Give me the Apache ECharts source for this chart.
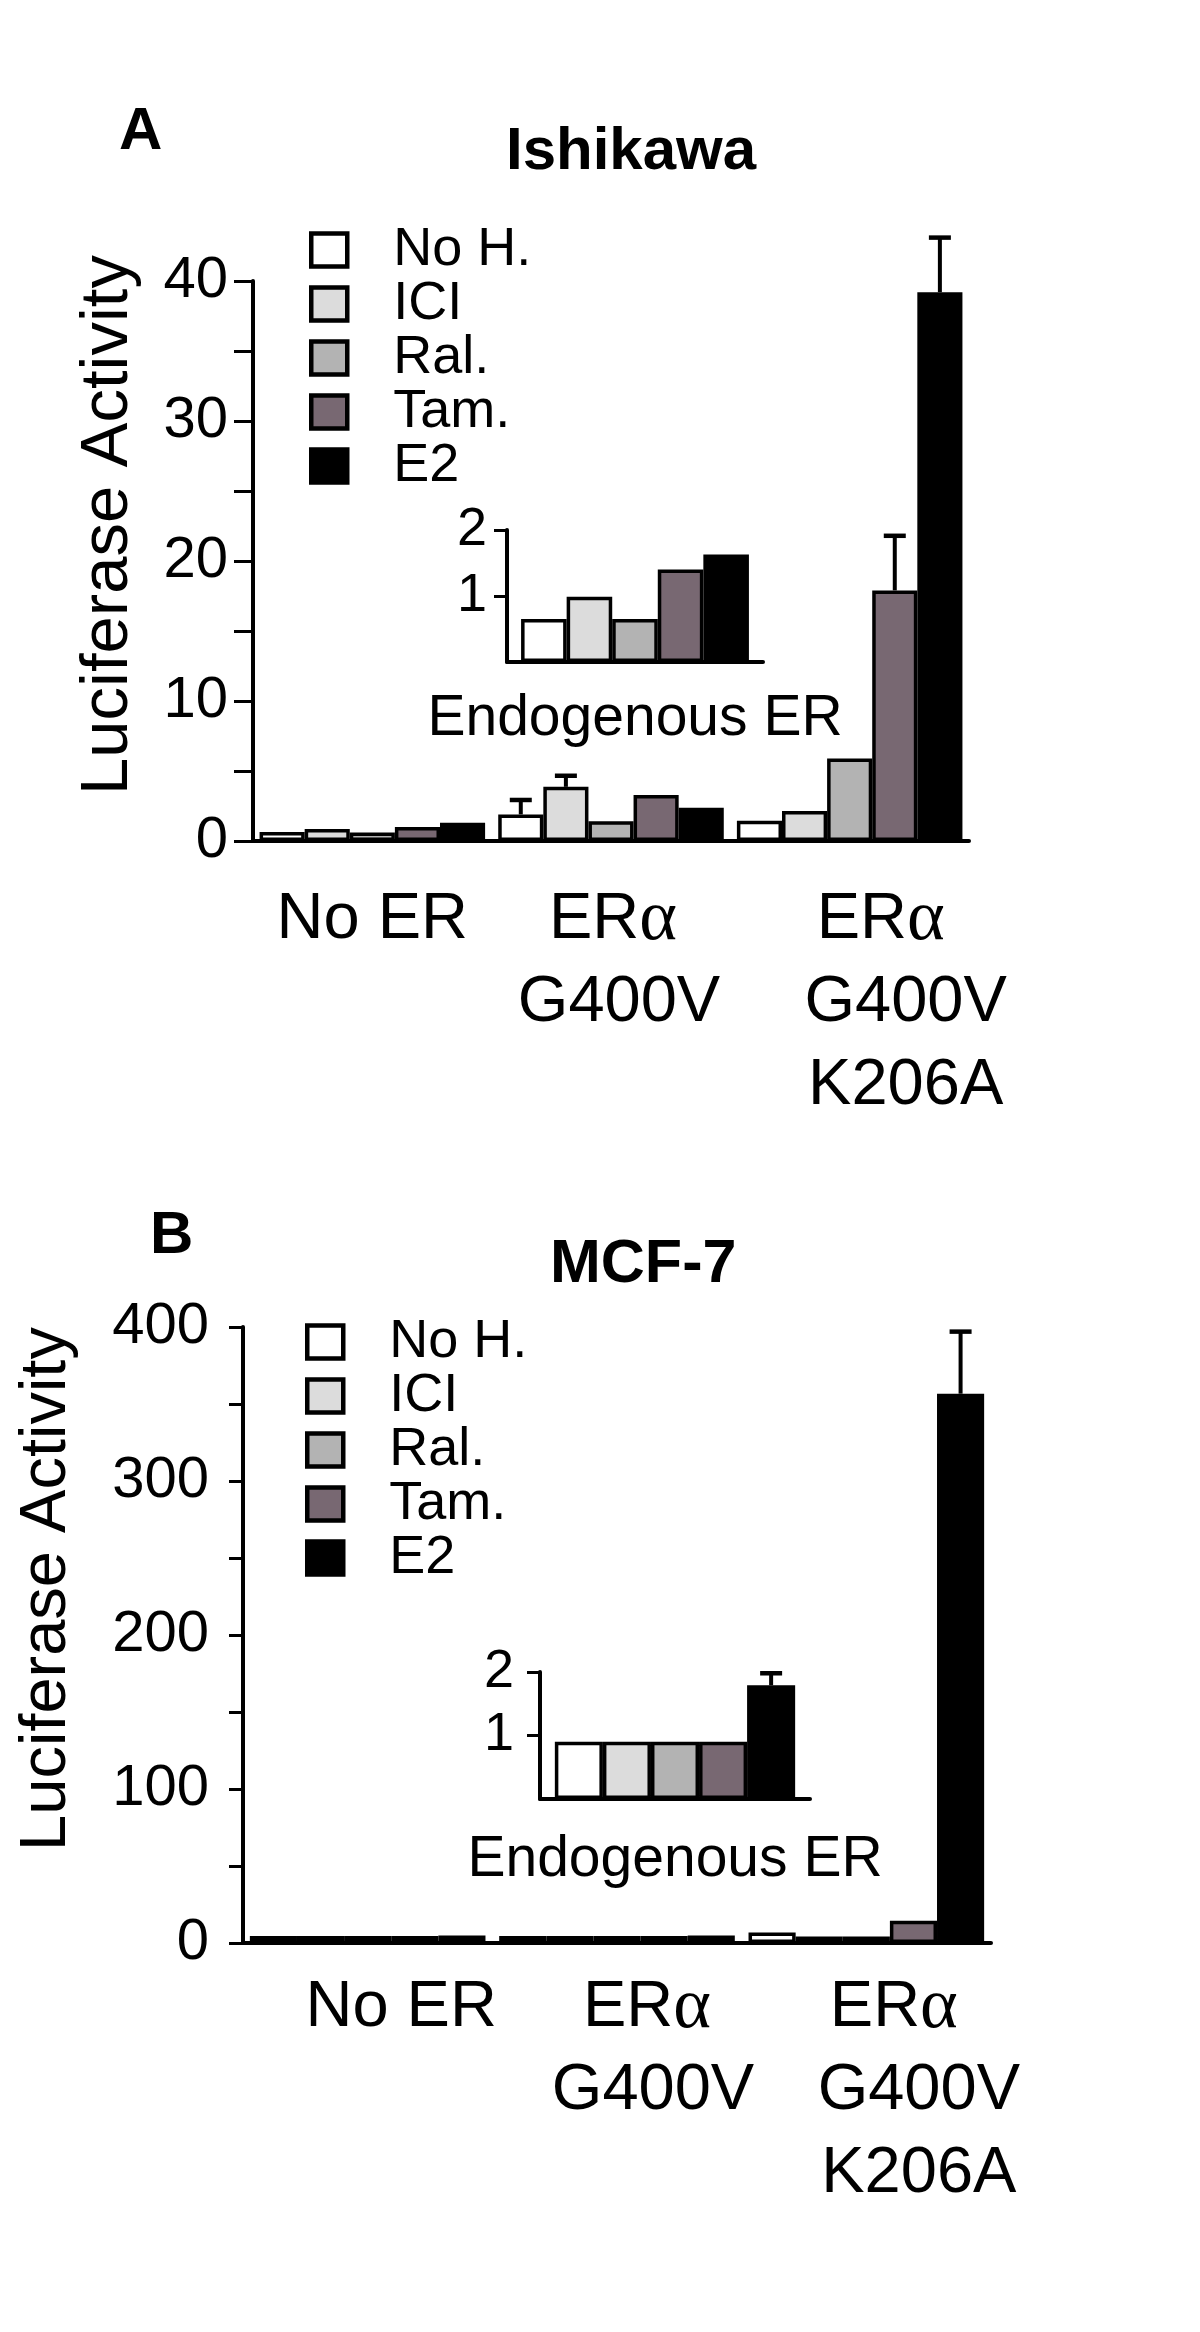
<!DOCTYPE html>
<html>
<head>
<meta charset="utf-8">
<title>Ishikawa / MCF-7 luciferase</title>
<script src="https://cdn.jsdelivr.net/npm/echarts@6/dist/echarts.min.js"></script>
<style>
  html, body { margin: 0; padding: 0; background: #fff; }
  #chart { width: 1200px; height: 2332px; }
</style>
</head>
<body>
<div id="chart"></div>
<script>
  // treatments and constructs
  var seriesNames = ['No H.', 'ICI', 'Ral.', 'Tam.', 'E2'];
  var categories = ['No ER', 'ERα\nG400V', 'ERα\nG400V\nK206A'];
  var endoCategory = ['Endogenous ER'];

  // panel A, Ishikawa (one value per construct)
  var ishNoH = [0.65, 1.9, 1.45];
  var ishICI = [0.85, 3.87, 2.15];
  var ishRal = [0.6, 1.41, 5.9];
  var ishTam = [1.0, 3.28, 17.9];
  var ishE2 = [1.3, 2.38, 39.2];
  // upper ends of the error bars (null = none drawn)
  var ishNoHErr = [null, 2.93, null];
  var ishICIErr = [null, 4.66, null];
  var ishRalErr = [null, null, null];
  var ishTamErr = [null, null, 21.8];
  var ishE2Err = [null, null, 43.1];
  // inset A, endogenous ER (one value per treatment)
  var ishEndo = [0.65, 0.99, 0.65, 1.4, 1.63];

  // panel B, MCF-7
  var mcfNoH = [4.5, 4.5, 6.8];
  var mcfICI = [4.5, 4.5, 4.3];
  var mcfRal = [4.5, 4.5, 4.3];
  var mcfTam = [4.5, 4.5, 14.4];
  var mcfE2 = [4.8, 4.8, 356.7];
  var mcfNoHErr = [null, null, null];
  var mcfICIErr = [null, null, null];
  var mcfRalErr = [null, null, null];
  var mcfTamErr = [null, null, null];
  var mcfE2Err = [null, null, 397];
  // inset B
  var mcfEndo = [0.9, 0.9, 0.9, 0.9, 1.79];
  var mcfEndoErr = [null, null, null, null, 1.98];

  var ticksA = [0, 40, 10];
  var ticksB = [0, 400, 100];
  var ticksInset = [0, 2, 1];

  var FONT = "'Liberation Sans', Arial, Helvetica, sans-serif";
  var colors = ['#ffffff', '#dcdcdc', '#b3b3b3', '#786872', '#000000'];
  var gapMain = 0.055;
  var gapInset = 0.11;

  var chart = echarts.init(document.getElementById('chart'), null, {renderer: 'canvas'});

  function labelFormatter (value, idx) {
    return value.split('\n').map(function (line, k) {
      var s = line.replace('α', '{a|α}');
      if (k === 0 && idx === 1) s += '{s1| }';
      if (k === 0 && idx === 2) s += '{s2| }';
      return s;
    }).join('\n');
  }

  function catAxis (gridIndex, shifts, margin) {
    return {
      type: 'category',
      gridIndex: gridIndex,
      data: categories.map(function (c, i) {
        return {value: c, textStyle: {padding: [0, 0, 0, shifts[i]]}};
      }),
      axisLine: {lineStyle: {color: '#000', width: 4}},
      axisTick: {alignWithLabel: true, length: 16, lineStyle: {color: '#000', width: 3}},
      axisLabel: {
        interval: 0,
        margin: margin,
        color: '#000',
        fontFamily: FONT,
        fontSize: 65,
        lineHeight: 83,
        formatter: labelFormatter,
        rich: {
          a: {fontFamily: "'Liberation Serif', 'DejaVu Serif', serif", fontSize: 72, lineHeight: 83, color: '#000'},
          s1: {width: 12, fontSize: 65, lineHeight: 83},
          s2: {width: 50, fontSize: 65, lineHeight: 83}
        }
      },
      splitLine: {show: false}
    };
  }

  function valAxis (gridIndex, ticks, tickLen, margin, nameSize, namePad, nameGap) {
    return {
      type: 'value',
      gridIndex: gridIndex,
      min: ticks[0],
      max: ticks[1],
      interval: ticks[2],
      name: 'Luciferase Activity',
      nameLocation: 'middle',
      nameRotate: 90,
      nameGap: nameGap,
      nameTextStyle: {fontFamily: FONT, fontSize: nameSize, color: '#000', padding: namePad},
      axisLine: {show: true, lineStyle: {color: '#000', width: 4}},
      axisTick: {show: true, length: tickLen, lineStyle: {color: '#000', width: 3}},
      minorTick: {show: true, splitNumber: 2, length: tickLen, lineStyle: {color: '#000', width: 3}},
      axisLabel: {margin: margin, color: '#000', fontFamily: FONT, fontSize: 58, padding: [20, 0, 0, 0]},
      splitLine: {show: false},
      minorSplitLine: {show: false}
    };
  }

  function insetXAxis (gridIndex, margin) {
    return {
      type: 'category',
      gridIndex: gridIndex,
      data: endoCategory,
      axisLine: {lineStyle: {color: '#000', width: 4}},
      axisTick: {alignWithLabel: true, length: 8, lineStyle: {color: '#000', width: 3}},
      axisLabel: {margin: margin, color: '#000', fontFamily: FONT, fontSize: 57, lineHeight: 60},
      splitLine: {show: false}
    };
  }

  function insetYAxis (gridIndex, margin) {
    return {
      type: 'value',
      gridIndex: gridIndex,
      min: ticksInset[0],
      max: ticksInset[1],
      interval: ticksInset[2],
      axisLine: {show: true, lineStyle: {color: '#000', width: 4}},
      axisTick: {show: true, length: 13, lineStyle: {color: '#000', width: 3}},
      axisLabel: {showMinLabel: false, margin: margin, color: '#000', fontFamily: FONT, fontSize: 54},
      splitLine: {show: false}
    };
  }

  function barSeries (axisIndex, name, colorIdx, data, gap) {
    return {
      name: name,
      type: 'bar',
      xAxisIndex: axisIndex,
      yAxisIndex: axisIndex,
      data: data,
      barGap: '0%',
      barCategoryGap: (gap * 100) + '%',
      itemStyle: {color: colors[colorIdx], borderColor: '#000', borderWidth: 3.5},
      emphasis: {disabled: true}
    };
  }

  // error bars sit on top of the bar they belong to
  function errSeries (axisIndex, items, gap) {
    return {
      type: 'custom',
      xAxisIndex: axisIndex,
      yAxisIndex: axisIndex,
      clip: false,
      z: 5,
      silent: true,
      encode: {x: 0, y: [2, 3]},
      data: items,
      renderItem: function (params, api) {
        var c = api.value(0);
        var k = api.value(1);
        var p0 = api.coord([c, api.value(2)]);
        var p1 = api.coord([c, api.value(3)]);
        var band = api.size([1, 0])[0];
        var used = band * (1 - gap);
        var x = p0[0] - used / 2 + (k + 0.5) * used / seriesNames.length;
        return {
          type: 'group',
          children: [
            {type: 'line', shape: {x1: x, y1: p0[1], x2: x, y2: p1[1]}, style: {stroke: '#000', lineWidth: 4}},
            {type: 'line', shape: {x1: x - 11, y1: p1[1], x2: x + 11, y2: p1[1]}, style: {stroke: '#000', lineWidth: 4.5}}
          ]
        };
      }
    };
  }

  function errItems (vals, errs) {
    var out = [];
    vals.forEach(function (row, k) {
      row.forEach(function (v, c) {
        if (errs[k][c] != null) out.push([c, k, v, errs[k][c]]);
      });
    });
    return out;
  }

  var ishVals = [ishNoH, ishICI, ishRal, ishTam, ishE2];
  var ishErrs = [ishNoHErr, ishICIErr, ishRalErr, ishTamErr, ishE2Err];
  var mcfVals = [mcfNoH, mcfICI, mcfRal, mcfTam, mcfE2];
  var mcfErrs = [mcfNoHErr, mcfICIErr, mcfRalErr, mcfTamErr, mcfE2Err];

  var series = [];
  seriesNames.forEach(function (n, k) {
    series.push(barSeries(0, n, k, ishVals[k], gapMain));
    series.push(barSeries(1, n, k, [ishEndo[k]], gapInset));
    series.push(barSeries(2, n, k, mcfVals[k], gapMain));
    series.push(barSeries(3, n, k, [mcfEndo[k]], gapInset));
  });
  series.push(errSeries(0, errItems(ishVals, ishErrs), gapMain));
  series.push(errSeries(2, errItems(mcfVals, mcfErrs), gapMain));
  series.push(errSeries(3, errItems(mcfEndo.map(function (v) { return [v]; }),
    mcfEndoErr.map(function (v) { return [v]; })), gapInset));

  function legendAt (left, top) {
    return {
      data: seriesNames,
      orient: 'vertical',
      left: left,
      top: top,
      padding: 0,
      itemGap: 0,
      itemWidth: 36,
      itemHeight: 33,
      icon: 'rect',
      selectedMode: false,
      itemStyle: {borderColor: '#000', borderWidth: 4.5},
      textStyle: {fontFamily: FONT, fontSize: 54, lineHeight: 51, color: '#000', padding: [0, 0, 0, 41]}
    };
  }

  function titleAt (text, left, top, size) {
    return {
      text: text, left: left, top: top, padding: 0,
      textStyle: {fontFamily: FONT, fontWeight: 'bold', fontSize: size, color: '#000'}
    };
  }

  chart.setOption({
    animation: false,
    backgroundColor: '#ffffff',
    title: [
      titleAt('A', 119, 102, 60),
      titleAt('Ishikawa', 506, 122, 60),
      titleAt('B', 150, 1206, 60),
      titleAt('MCF-7', 550, 1235, 61)
    ],
    legend: [legendAt(309, 223), legendAt(305, 1315)],
    grid: [
      {left: 253, top: 281, width: 716, height: 560, containLabel: false, outerBoundsMode: 'none'},
      {left: 507, top: 530, width: 256, height: 132, containLabel: false, outerBoundsMode: 'none'},
      {left: 243, top: 1327, width: 748, height: 616, containLabel: false, outerBoundsMode: 'none'},
      {left: 540, top: 1672, width: 270, height: 127, containLabel: false, outerBoundsMode: 'none'}
    ],
    xAxis: [
      catAxis(0, [0, 16, 112], 38),
      insetXAxis(1, 27),
      catAxis(2, [67, 72, 105], 24),
      insetXAxis(3, 31)
    ],
    yAxis: [
      valAxis(0, ticksA, 19, 25, 67, [0, 0, 0, 72], 111),
      insetYAxis(1, 20),
      valAxis(2, ticksB, 14, 34, 65, [0, 0, 0, 92], 163),
      insetYAxis(3, 26)
    ],
    series: series
  });
</script>
</body>
</html>
